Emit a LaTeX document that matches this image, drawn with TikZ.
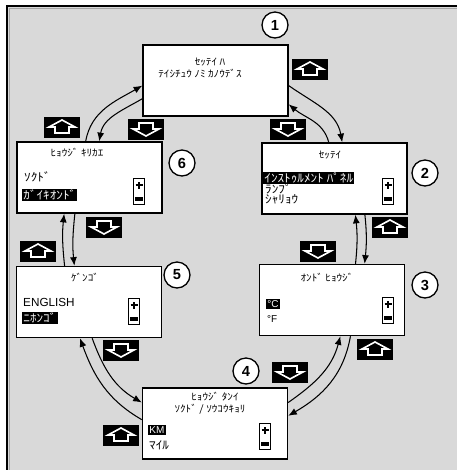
\documentclass[tikz,border=0pt]{standalone}
\usepackage{fontspec}
\setmainfont{Liberation Sans}
\newfontfamily\kana[FakeStretch=1.15]{Noto Sans CJK JP}
\usepackage{tikz}
\usetikzlibrary{arrows.meta}
\definecolor{panelGray}{RGB}{217,217,217}

\tikzset{
  screen/.style={draw, line width=1.2pt, fill=white, minimum width=4.35cm, minimum height=2.13cm, inner sep=0pt},
  stepnum/.style={circle, draw, line width=1.1pt, fill=white, minimum size=0.78cm, inner sep=0pt, font=\fontsize{12.5}{13}\selectfont\bfseries},
  head/.style={font=\kana\fontsize{8.3}{9}\selectfont, inner sep=0pt},
  item/.style={font=\kana\fontsize{9.8}{10}\selectfont, inner sep=0pt, anchor=west},
  tag/.style={font=\fontsize{8.5}{9}\selectfont, inner sep=0pt, anchor=west},
  sel/.style={fill=black, text=white, inner sep=1pt},
  link/.style={line width=0.9pt, -{Latex[length=2.6mm,width=2.1mm]}},
  btn/.style={fill=black, minimum width=1.08cm, minimum height=0.63cm, inner sep=0pt},
  btnup/.style={btn, path picture={
    \draw[white, line width=1.4pt] ([shift={(0,7)}]path picture bounding box.center)
      -- ++(13,-7) -- ++(-6,0) -- ++(0,-6) -- ++(-14,0) -- ++(0,6) -- ++(-6,0) -- cycle;}},
  btndown/.style={btn, path picture={
    \draw[white, line width=1.4pt] ([shift={(0,-7)}]path picture bounding box.center)
      -- ++(13,7) -- ++(-6,0) -- ++(0,6) -- ++(-14,0) -- ++(0,-6) -- ++(-6,0) -- cycle;}},
  gauge/.style={draw, line width=0.8pt, fill=white, minimum width=0.33cm, minimum height=0.78cm, inner sep=0pt,
    path picture={
      \draw[black, line width=1.3pt] ([shift={(-3.5,6)}]path picture bounding box.center) -- ++(7,0)
        ([shift={(0,2.5)}]path picture bounding box.center) -- ++(0,7);
      \fill[black] ([shift={(-4,-6)}]path picture bounding box.center) rectangle ++(8,-4);}}
}

\begin{document}
\begin{tikzpicture}[x=0.03cm, y=0.03cm]
  \useasboundingbox (0,0) rectangle (457,-470);
  \clip (0,0) rectangle (457,-470);
  \fill[white] (0,0) rectangle (457,-470);
  % panel
  \draw[line width=1.5pt, fill=panelGray] (7,-6) rectangle (480,-490);
  \draw[gray!70, line width=0.7pt] (9.5,-8.5) rectangle (480,-490);

  % screens
  \node[screen] (s1) at (215.5,-80.5) {};
  \node[screen] (s2) at (334.5,-178.5) {};
  \node[screen] (s3) at (332,-300) {};
  \node[screen] (s4) at (215,-423.5) {};
  \node[screen] (s5) at (89,-302) {};
  \node[screen] (s6) at (89.5,-177.5) {};

  % step numbers
  \node[stepnum] (n1) at (275,-25) {1};
  \node[stepnum] (n2) at (425,-173) {2};
  \node[stepnum] (n3) at (425,-285) {3};
  \node[stepnum] (n4) at (246,-371) {4};
  \node[stepnum] (n5) at (177,-275) {5};
  \node[stepnum] (n6) at (182,-163) {6};

  % screen 1
  \node[head] (s1a) at (210,-62) {ｾｯﾃｲ ﾊ};
  \node[head] (s1b) at (200,-74) {ﾃｲｼﾁｭｳ ﾉﾐ ｶﾉｳﾃﾞｽ};
  % screen 2
  \node[head] (s2a) at (330,-155) {ｾｯﾃｲ};
  \node[item, sel] (s2b) at (263,-178) {ｲﾝｽﾄｩﾙﾒﾝﾄ ﾊﾟﾈﾙ};
  \node[item] (s2c) at (265,-188.5) {ﾗﾝﾌﾟ};
  \node[item] (s2d) at (265,-199) {ｼｬﾘｮｳ};
  \node[gauge] (g2) at (388,-191) {};
  % screen 3
  \node[head] (s3a) at (327,-278) {ｵﾝﾄﾞ ﾋｮｳｼﾞ};
  \node[tag, sel] (s3b) at (266,-304) {°C};
  \node[tag] (s3c) at (267,-319) {°F};
  \node[gauge] (g3) at (388,-310) {};
  % screen 4
  \node[head] (s4a) at (215,-397) {ﾋｮｳｼﾞ ﾀﾝｲ};
  \node[head] (s4b) at (210,-409) {ｿｸﾄﾞ / ｿｳｺｳｷｮﾘ};
  \node[tag, sel] (s4c) at (148,-430) {KM};
  \node[item] (s4d) at (149,-445) {ﾏｲﾙ};
  \node[gauge] (g4) at (265,-436) {};
  % screen 5
  \node[head] (s5a) at (85,-278) {ｹﾞﾝｺﾞ};
  \node[tag, font=\fontsize{10}{11}\selectfont] (s5b) at (23,-302) {ENGLISH};
  \node[item, sel] (s5c) at (22,-318) {ﾆﾎﾝｺﾞ};
  \node[gauge] (g5) at (134,-311) {};
  % screen 6
  \node[head] (s6a) at (77,-153) {ﾋｮｳｼﾞ ｷﾘｶｴ};
  \node[item] (s6b) at (24,-177) {ｿｸﾄﾞ};
  \node[item, sel] (s6c) at (22,-195) {ｶﾞｲｷｵﾝﾄﾞ};
  \node[gauge] (g6) at (139,-191) {};

  % keys
  \node[btnup] (u1) at (310,-69) {};
  \node[btndown] (d1) at (146,-129) {};
  \node[btndown] (d2) at (288,-129) {};
  \node[btnup] (u6) at (62,-127) {};
  \node[btndown] (d6) at (104,-227) {};
  \node[btnup] (u2) at (390,-227) {};
  \node[btnup] (u5) at (38,-251) {};
  \node[btndown] (d3) at (318,-251) {};
  \node[btndown] (d5) at (121,-350) {};
  \node[btnup] (u3) at (375,-349) {};
  \node[btndown] (d4) at (290,-372) {};
  \node[btnup] (u4) at (121,-435) {};

  % links
  \draw[link] (s1.-4) to[out=-35,in=100] (s2.78);
  \draw[link] (s2.99) to[out=105,in=-40] (s1.-18);
  \draw[link] (s2.-50) to[out=-84,in=84] (s3.48);
  \draw[link] (s3.57) to[out=84,in=-84] (s2.-60);
  \draw[link] (s3.-63) to[out=-100,in=30] (s4.6);
  \draw[link] (s4.16) to[out=35,in=-105] (s3.-77);
  \draw[link] (s4.177) to[out=150,in=-70] (s5.-104);
  \draw[link] (s5.-85) to[out=-70,in=150] (s4.164);
  \draw[link] (s5.124) to[out=96,in=-96] (s6.-125);
  \draw[link] (s6.-112) to[out=-96,in=96] (s5.112);
  \draw[link] (s6.96) to[out=80,in=-150] (s1.184);
  \draw[link] (s1.194) to[out=210,in=80] (s6.75);
\end{tikzpicture}
\end{document}
